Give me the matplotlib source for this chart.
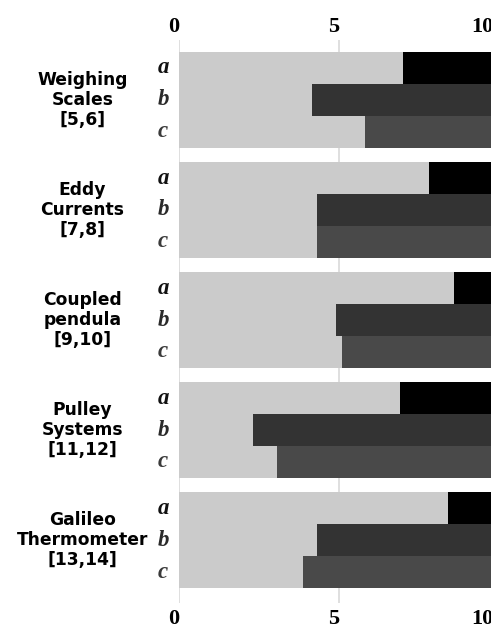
import matplotlib
matplotlib.use("Agg")
import matplotlib.pyplot as plt
import matplotlib.transforms as mtransforms
import numpy as np

# ---- data ----
topics = ["Weighing\nScales\n[5,6]", "Eddy\nCurrents\n[7,8]", "Coupled\npendula\n[9,10]",
          "Pulley\nSystems\n[11,12]", "Galileo\nThermometer\n[13,14]"]
sub_labels = ["a", "b", "c"]
# boundary between light and dark segments (scale 0-10)
vals_a = [7.0, 7.8, 8.6, 6.9, 8.4]
vals_b = [4.15, 4.3, 4.9, 2.3, 4.3]
vals_c = [5.82, 4.3, 5.1, 3.07, 3.88]
xmax = 10
xticks = [0, 5, 10]
xtick_labels = ["0", "5", "10"]

light = "#cbcbcb"
dark_colors = ["#000000", "#333333", "#494949"]
text_colors = ["#111111", "#2a2a2a", "#3a3a3a"]

W, H = 491, 627
fig = plt.figure(figsize=(W / 100, H / 100), dpi=100)

left_px, right_px = 179, 499
top_px, bot_px = 40, 603
ax = fig.add_axes([left_px / W, 1 - bot_px / H, (right_px - left_px) / W, (bot_px - top_px) / H])

gap = 0.44
series = [vals_a, vals_b, vals_c]
for gi in range(len(topics)):
    base = gi * (3 + gap)
    for j, s in enumerate(series):
        y = base + j
        v = s[gi]
        ax.barh(y, v, left=0, height=1.0, color=light, edgecolor="none", zorder=2)
        ax.barh(y, xmax - v, left=v, height=1.0, color=dark_colors[j], edgecolor="none", zorder=2)
        ax.text(-0.5, y, sub_labels[j], ha="center", va="center",
                fontfamily="Liberation Serif", fontstyle="italic", fontweight="bold",
                fontsize=16.5, color=text_colors[j], transform=ax.transData, clip_on=False)
    ax.text(-3.02, base + 1, topics[gi], ha="center", va="center", fontfamily="DejaVu Sans",
            fontweight="bold", fontsize=12.3, linespacing=1.12, color="black", clip_on=False)

ymin = -0.5
ymax = (len(topics) - 1) * (3 + gap) + 2.5
pxu = (588 - 52) / (ymax - ymin)
ax.set_ylim(ymax + (bot_px - 588) / pxu, ymin - (52 - top_px) / pxu)
ax.set_xlim(0, xmax)

for x in xticks:
    ax.axvline(x, color="#d9d9d9", lw=1.2, zorder=1)

ax.set_xticks([])
ax.set_yticks([])
for sp in ax.spines.values():
    sp.set_visible(False)

offs = [-5, -5, -17]
for x, lab, o in zip(xticks, xtick_labels, offs):
    for yfrac, va, dy in [(1.0, "bottom", 3), (0.0, "top", -6)]:
        tr = mtransforms.blended_transform_factory(ax.transData, ax.transAxes) + \
            mtransforms.ScaledTranslation(o / 100, dy / 100, fig.dpi_scale_trans)
        ax.text(x, yfrac, lab, transform=tr, ha="center", va=va, fontfamily="Liberation Serif",
                fontweight="bold", fontsize=16, color="black", clip_on=False)

fig.savefig("out.png", dpi=100)
